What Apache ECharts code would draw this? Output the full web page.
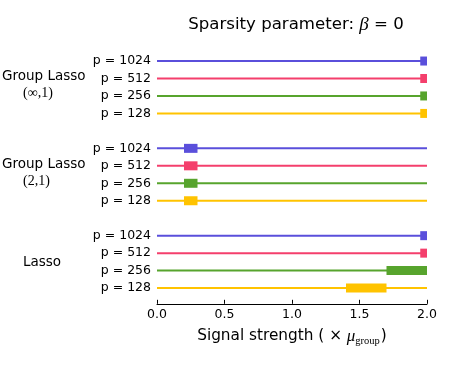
<!DOCTYPE html>
<html>
<head>
<meta charset="utf-8">
<script src="https://cdn.jsdelivr.net/npm/echarts@6/dist/echarts.min.js"></script>
<style>
  html, body { margin: 0; padding: 0; background: #fff; }
  #chart { width: 449px; height: 374px; }
</style>
</head>
<body>
<div id="chart"></div>
<script>
// row labels inside each group, top to bottom
var pLabels = ['p = 1024', 'p = 512', 'p = 256', 'p = 128'];
var pColors = ['#5a4fdb', '#f43f6c', '#57a42d', '#ffc300'];

// highlighted interval per row (signal strength, x mu_group)
var infStart   = [1.95, 1.95, 1.95, 1.95];
var infEnd     = [2.0, 2.0, 2.0, 2.0];
var twoStart   = [0.2, 0.2, 0.2, 0.2];
var twoEnd     = [0.3, 0.3, 0.3, 0.3];
var lassoStart = [1.95, 1.95, 1.7, 1.4];
var lassoEnd   = [2.0, 2.0, 2.0, 1.7];

// full range of each thin line
var lineFrom = 0.0;
var lineTo = 2.0;

// build category rows with a blank slot between groups
var categories = [];
var rows = [];
function addGroup(starts, ends, blankAfter) {
	for (var i = 0; i < pLabels.length; i++) {
		rows.push([categories.length, starts[i], ends[i], i]);
		categories.push(pLabels[i]);
	}
	if (blankAfter) categories.push('');
}
addGroup(infStart, infEnd, true);
addGroup(twoStart, twoEnd, true);
addGroup(lassoStart, lassoEnd, false);

function groupText(x, y, text, serif, size) {
	return {
		type: 'text', x: x, y: y,
		style: {
			text: text,
			fontFamily: serif ? 'Liberation Serif' : 'DejaVu Sans',
			fontSize: size,
			fill: '#000',
			verticalAlign: 'middle'
		}
	};
}

var myChart = echarts.init(document.getElementById('chart'));

var option = {
	backgroundColor: '#fff',
	animation: false,
	title: {
		text: '{a|Sparsity parameter: }{b|β}{a| = 0}',
		left: 291,
		textAlign: 'center',
		top: 10,
		textStyle: {
			rich: {
				a: { fontFamily: 'DejaVu Sans', fontWeight: 'normal', fontSize: 16.6, color: '#000' },
				b: { fontFamily: 'Liberation Serif', fontWeight: 'normal', fontStyle: 'italic', fontSize: 19, color: '#000' }
			}
		}
	},
	grid: {
		left: 157,
		right: 22,
		top: 52.3,
		height: 244.5
	},
	xAxis: {
		type: 'value',
		min: 0,
		max: 2,
		interval: 0.5,
		offset: 7,
		axisLine: { show: true, lineStyle: { color: '#000', width: 1 } },
		axisTick: { show: true, inside: true, length: 4, lineStyle: { color: '#000' } },
		splitLine: { show: false },
		axisLabel: {
			color: '#000',
			fontFamily: 'DejaVu Sans',
			fontSize: 12.5,
			margin: 4,
			formatter: function(v) { return v.toFixed(1); }
		},
		name: '{a|Signal strength ( × }{m|μ}{s|group}{a|)}',
		nameLocation: 'middle',
		nameGap: 22,
		nameTextStyle: {
			rich: {
				a: { fontFamily: 'DejaVu Sans', fontSize: 15.3, color: '#000' },
				m: { fontFamily: 'Liberation Serif', fontStyle: 'italic', fontSize: 17, color: '#000' },
				s: { fontFamily: 'Liberation Serif', fontSize: 10.5, color: '#000', padding: [10, 1, 0, 0] }
			}
		}
	},
	yAxis: {
		type: 'category',
		inverse: true,
		data: categories,
		axisLine: { show: false },
		axisTick: { show: false },
		splitLine: { show: false },
		axisLabel: {
			color: '#000',
			fontFamily: 'DejaVu Sans',
			fontSize: 12.5,
			margin: 6,
			interval: 0
		}
	},
	graphic: [
		groupText(2, 76, 'Group Lasso', false, 13.5),
		groupText(23, 93.5, '(∞,1)', true, 14),
		groupText(2, 164.5, 'Group Lasso', false, 13.5),
		groupText(23, 181.5, '(2,1)', true, 14),
		groupText(23, 262.5, 'Lasso', false, 13.5)
	],
	series: [{
		type: 'custom',
		data: rows,
		encode: { y: 0, x: [1, 2] },
		renderItem: function(params, api) {
			var row = api.value(0);
			var color = pColors[api.value(3)];
			var a = api.coord([lineFrom, row]);
			var b = api.coord([lineTo, row]);
			var s = api.coord([api.value(1), row]);
			var e = api.coord([api.value(2), row]);
			var h = 9;
			return {
				type: 'group',
				children: [
					{
						type: 'line',
						shape: { x1: a[0], y1: a[1], x2: b[0], y2: b[1] },
						style: { stroke: color, lineWidth: 2 }
					},
					{
						type: 'rect',
						shape: { x: s[0], y: s[1] - h / 2, width: e[0] - s[0], height: h },
						style: { fill: color }
					}
				]
			};
		}
	}]
};

myChart.setOption(option);
</script>
</body>
</html>
